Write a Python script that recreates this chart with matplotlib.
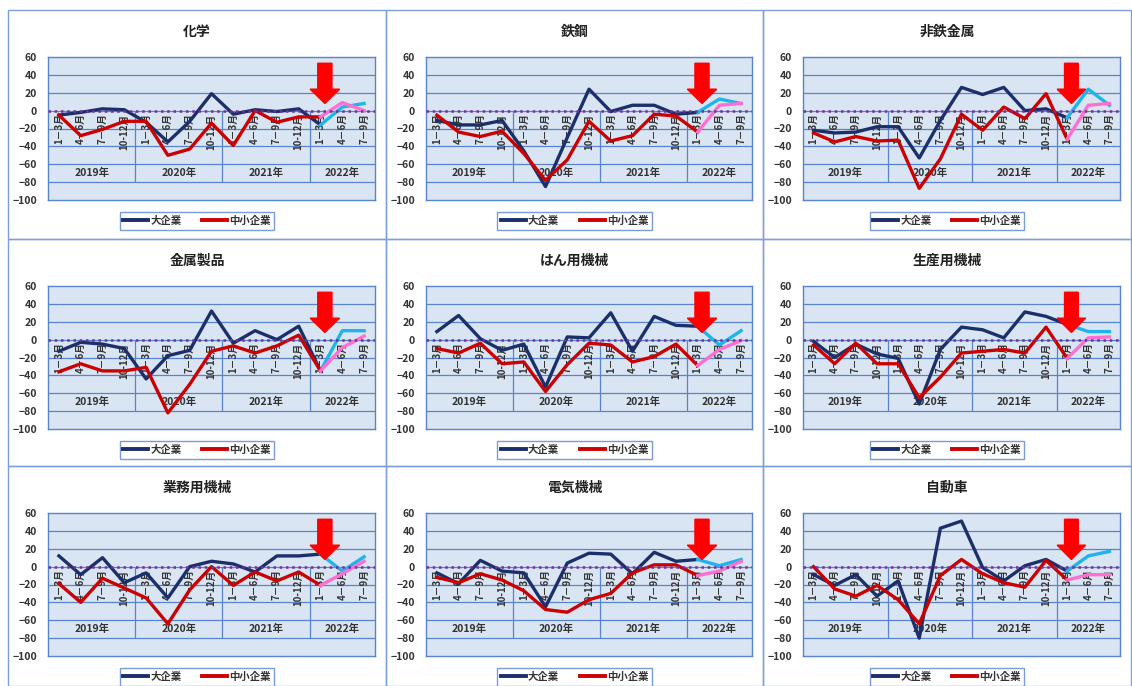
import matplotlib
matplotlib.use("Agg")
import matplotlib.pyplot as plt
from matplotlib.lines import Line2D
from matplotlib.patches import Rectangle, FancyArrow

plt.rcParams['font.family'] = ['Noto Sans CJK JP', 'DejaVu Sans']

# categories
quarters = ["1－3月", "4－6月", "7－9月", "10-12月"] * 3 + ["1－3月", "4－6月", "7－9月"]
years = ["2019年", "2020年", "2021年", "2022年"]
year_centers = [1.5, 5.5, 9.5, 13]
year_breaks = [3.5, 7.5, 11.5]

titles = ["化学", "鉄鋼", "非鉄金属",
          "金属製品", "はん用機械", "生産用機械",
          "業務用機械", "電気機械", "自動車"]

# 大企業 (large firms)
large = [
    [-5, -2, 2, 1, -13, -35, -12, 19, -4, 1, -1, 2, -16, 4, 8],
    [-11, -16, -16, -11, -45, -85, -30, 24, -1, 6, 6, -4, -2, 13, 8],
    [-22, -25, -24, -18, -18, -53, -11, 26, 18, 26, 0, 2, -8, 24, 6],
    [-13, -3, -5, -10, -44, -18, -12, 32, -4, 10, 0, 15, -35, 10, 10],
    [9, 27, 1, -12, -5, -53, 3, 2, 30, -13, 26, 16, 15, -6, 10],
    [-2, -20, -5, -16, -21, -72, -11, 14, 11, 2, 31, 26, 17, 9, 9],
    [12, -9, 10, -18, -7, -35, 0, 6, 3, -6, 12, 12, 14, -5, 11],
    [-7, -19, 7, -5, -7, -45, 4, 15, 14, -8, 16, 6, 8, 1, 8],
    [-9, -21, -9, -33, -16, -80, 43, 51, -1, -16, 1, 8, -5, 12, 17],
]
# 中小企業 (small and medium firms)
small = [
    [-5, -28, -21, -12, -12, -50, -43, -14, -39, 0, -13, -7, -7, 9, 0],
    [-5, -24, -29, -23, -48, -78, -55, -12, -34, -28, -4, -6, -24, 6, 8],
    [-25, -35, -29, -34, -33, -87, -54, -4, -22, 4, -9, 19, -32, 6, 8],
    [-36, -27, -35, -35, -31, -82, -50, -13, -7, -15, -7, 5, -35, -9, 4],
    [-10, -15, -4, -27, -25, -58, -28, -4, -6, -25, -19, -5, -29, -11, -1],
    [-6, -27, -4, -27, -27, -65, -42, -15, -13, -11, -15, 14, -21, 2, 3],
    [-19, -40, -13, -24, -35, -64, -26, 0, -21, -6, -16, -6, -21, -8, 6],
    [-12, -18, -8, -15, -27, -48, -51, -37, -30, -7, 2, 2, -10, -5, 6],
    [0, -25, -33, -21, -37, -64, -10, 8, -8, -18, -23, 7, -15, -9, -9],
]

W, H = 1132, 686
col_edges = [8, 386, 763, 1131]
row_edges = [10, 239, 466, 686]

navy = "#1B2F6B"
red = "#CC0000"
cyan = "#1EB4EC"
pink = "#FF6FCF"
frame = "#5A84C8"
txt = "#333333"

fig = plt.figure(figsize=(W / 100, H / 100), dpi=100)


def fx(px):
    return px / W


def fy(py):
    return 1 - py / H


n = len(quarters)
xs = list(range(n))
cut = 12  # 2022 1-3 : start of forecast

for k in range(9):
    r, c = divmod(k, 3)
    pl, pr = col_edges[c], col_edges[c + 1]
    pt, pb = row_edges[r], row_edges[r + 1]

    # panel frame
    fig.add_artist(Rectangle((fx(pl), fy(pb)), fx(pr - pl), (pb - pt) / H,
                             transform=fig.transFigure, fill=False,
                             edgecolor="#7F9FD8", lw=1.0))

    left = pl + 40
    right = pr - 11
    top = pt + 47
    ax = fig.add_axes([fx(left), fy(top + 143), fx(right - left), 143 / H])
    ax.set_facecolor("#DAE5F3")
    ax.set_xlim(-0.5, n - 0.5)
    ax.set_ylim(-100, 60)
    for s in ax.spines.values():
        s.set_color(frame)
        s.set_linewidth(1.0)
    ax.set_xticks([])
    ax.set_yticks(range(-100, 61, 20))
    ax.tick_params(axis="y", length=0, pad=8)
    for lab in ax.get_yticklabels():
        lab.set_fontsize(7.5)
        lab.set_fontweight("bold")
        lab.set_color(txt)
    for yv in range(-80, 60, 20):
        ax.axhline(yv, color=frame, lw=0.9, zorder=1)
    ax.vlines(year_breaks, -80, 0, color=frame, lw=0.9, zorder=1)

    for i, q in enumerate(quarters):
        ax.text(i, -3, q, rotation=90, ha="center", va="top", fontsize=7,
                fontweight="bold", color=txt, zorder=2)
    for yc, yl in zip(year_centers, years):
        ax.text(yc, -70, yl, ha="center", va="center", fontsize=7.5,
                fontweight="bold", color=txt, zorder=2)

    ax.axhline(0, color="#7030A0", lw=1.8, ls=(0, (1, 1.5)), zorder=5)

    ax.plot(xs[:cut + 1], large[k][:cut + 1], color=navy, lw=2.4, zorder=4)
    ax.plot(xs[cut:], large[k][cut:], color=cyan, lw=2.4, zorder=4)
    ax.plot(xs[:cut + 1], small[k][:cut + 1], color=red, lw=2.4, zorder=4)
    ax.plot(xs[cut:], small[k][cut:], color=pink, lw=2.4, zorder=4)

    ax.add_patch(FancyArrow(cut + 0.2, 53, 0, -45, width=0.65, head_width=1.35,
                            head_length=16, length_includes_head=True,
                            color="#FF0000", zorder=6, clip_on=False))

    cx = (pl + pr) / 2
    fig.text(fx(cx), fy(pt + 22), titles[k], ha="center", va="center",
             fontsize=10, fontweight="bold", color="#222222")

    handles = [Line2D([], [], color=navy, lw=2.8), Line2D([], [], color=red, lw=2.8)]
    leg = fig.legend(handles, ["大企業", "中小企業"], loc="center",
                     bbox_to_anchor=(fx(cx), fy(pt + 211)), ncol=2,
                     prop={"size": 7.5, "weight": "bold"}, frameon=True,
                     fancybox=False, edgecolor=frame, handlelength=2.4,
                     handletextpad=0.2, columnspacing=2.0,
                     borderpad=0.35, borderaxespad=0)
    leg.get_frame().set_linewidth(1.0)
    for t in leg.get_texts():
        t.set_color(txt)

fig.savefig("out.png", dpi=100)
